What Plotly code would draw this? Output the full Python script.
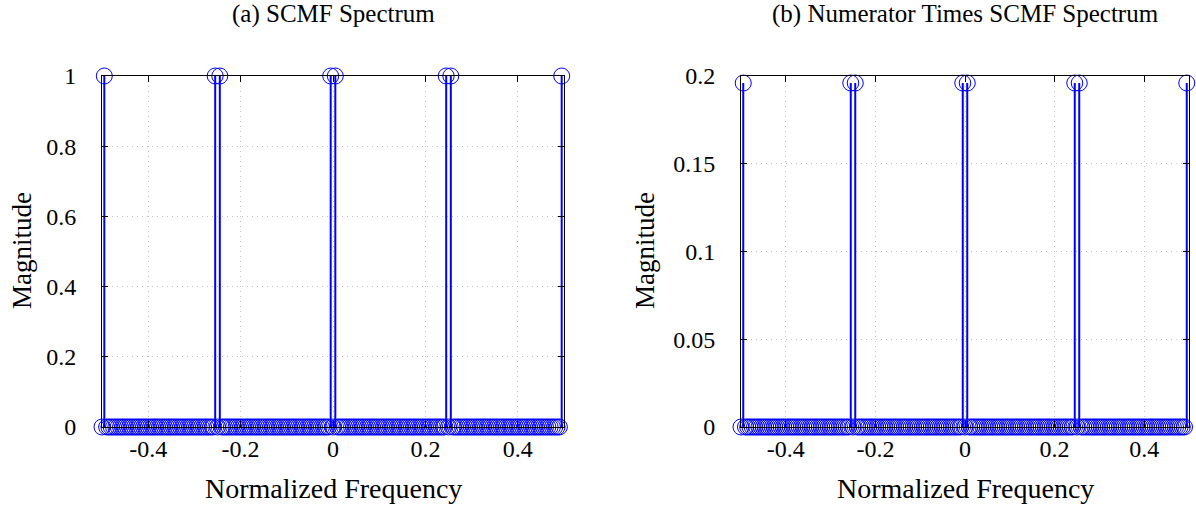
import plotly.graph_objects as go

# Normalized frequency bins (200-point grid)
freq = [
    -0.500, -0.495, -0.490, -0.485, -0.480, -0.475, -0.470, -0.465, -0.460, -0.455,
    -0.450, -0.445, -0.440, -0.435, -0.430, -0.425, -0.420, -0.415, -0.410, -0.405,
    -0.400, -0.395, -0.390, -0.385, -0.380, -0.375, -0.370, -0.365, -0.360, -0.355,
    -0.350, -0.345, -0.340, -0.335, -0.330, -0.325, -0.320, -0.315, -0.310, -0.305,
    -0.300, -0.295, -0.290, -0.285, -0.280, -0.275, -0.270, -0.265, -0.260, -0.255,
    -0.250, -0.245, -0.240, -0.235, -0.230, -0.225, -0.220, -0.215, -0.210, -0.205,
    -0.200, -0.195, -0.190, -0.185, -0.180, -0.175, -0.170, -0.165, -0.160, -0.155,
    -0.150, -0.145, -0.140, -0.135, -0.130, -0.125, -0.120, -0.115, -0.110, -0.105,
    -0.100, -0.095, -0.090, -0.085, -0.080, -0.075, -0.070, -0.065, -0.060, -0.055,
    -0.050, -0.045, -0.040, -0.035, -0.030, -0.025, -0.020, -0.015, -0.010, -0.005,
    0.000, 0.005, 0.010, 0.015, 0.020, 0.025, 0.030, 0.035, 0.040, 0.045,
    0.050, 0.055, 0.060, 0.065, 0.070, 0.075, 0.080, 0.085, 0.090, 0.095,
    0.100, 0.105, 0.110, 0.115, 0.120, 0.125, 0.130, 0.135, 0.140, 0.145,
    0.150, 0.155, 0.160, 0.165, 0.170, 0.175, 0.180, 0.185, 0.190, 0.195,
    0.200, 0.205, 0.210, 0.215, 0.220, 0.225, 0.230, 0.235, 0.240, 0.245,
    0.250, 0.255, 0.260, 0.265, 0.270, 0.275, 0.280, 0.285, 0.290, 0.295,
    0.300, 0.305, 0.310, 0.315, 0.320, 0.325, 0.330, 0.335, 0.340, 0.345,
    0.350, 0.355, 0.360, 0.365, 0.370, 0.375, 0.380, 0.385, 0.390, 0.395,
    0.400, 0.405, 0.410, 0.415, 0.420, 0.425, 0.430, 0.435, 0.440, 0.445,
    0.450, 0.455, 0.460, 0.465, 0.470, 0.475, 0.480, 0.485, 0.490, 0.495,
]

# (a) SCMF spectrum magnitude, rows of 25 bins
scmf_mag = [
    0, 1, 0, 0, 0, 0, 0, 0, 0, 0, 0, 0, 0, 0, 0, 0, 0, 0, 0, 0, 0, 0, 0, 0, 0,
    0, 0, 0, 0, 0, 0, 0, 0, 0, 0, 0, 0, 0, 0, 0, 0, 0, 0, 0, 0, 0, 0, 0, 0, 1,
    0, 1, 0, 0, 0, 0, 0, 0, 0, 0, 0, 0, 0, 0, 0, 0, 0, 0, 0, 0, 0, 0, 0, 0, 0,
    0, 0, 0, 0, 0, 0, 0, 0, 0, 0, 0, 0, 0, 0, 0, 0, 0, 0, 0, 0, 0, 0, 0, 0, 1,
    0, 1, 0, 0, 0, 0, 0, 0, 0, 0, 0, 0, 0, 0, 0, 0, 0, 0, 0, 0, 0, 0, 0, 0, 0,
    0, 0, 0, 0, 0, 0, 0, 0, 0, 0, 0, 0, 0, 0, 0, 0, 0, 0, 0, 0, 0, 0, 0, 0, 1,
    0, 1, 0, 0, 0, 0, 0, 0, 0, 0, 0, 0, 0, 0, 0, 0, 0, 0, 0, 0, 0, 0, 0, 0, 0,
    0, 0, 0, 0, 0, 0, 0, 0, 0, 0, 0, 0, 0, 0, 0, 0, 0, 0, 0, 0, 0, 0, 0, 0, 1,
]

# (b) Numerator times SCMF spectrum magnitude, rows of 25 bins
num_scmf_mag = [
    0, 0.196, 0, 0, 0, 0, 0, 0, 0, 0, 0, 0, 0, 0, 0, 0, 0, 0, 0, 0, 0, 0, 0, 0, 0,
    0, 0, 0, 0, 0, 0, 0, 0, 0, 0, 0, 0, 0, 0, 0, 0, 0, 0, 0, 0, 0, 0, 0, 0, 0.196,
    0, 0.196, 0, 0, 0, 0, 0, 0, 0, 0, 0, 0, 0, 0, 0, 0, 0, 0, 0, 0, 0, 0, 0, 0, 0,
    0, 0, 0, 0, 0, 0, 0, 0, 0, 0, 0, 0, 0, 0, 0, 0, 0, 0, 0, 0, 0, 0, 0, 0, 0.196,
    0, 0.196, 0, 0, 0, 0, 0, 0, 0, 0, 0, 0, 0, 0, 0, 0, 0, 0, 0, 0, 0, 0, 0, 0, 0,
    0, 0, 0, 0, 0, 0, 0, 0, 0, 0, 0, 0, 0, 0, 0, 0, 0, 0, 0, 0, 0, 0, 0, 0, 0.196,
    0, 0.196, 0, 0, 0, 0, 0, 0, 0, 0, 0, 0, 0, 0, 0, 0, 0, 0, 0, 0, 0, 0, 0, 0, 0,
    0, 0, 0, 0, 0, 0, 0, 0, 0, 0, 0, 0, 0, 0, 0, 0, 0, 0, 0, 0, 0, 0, 0, 0, 0.196,
]

x_ticks = [-0.4, -0.2, 0, 0.2, 0.4]
x_tick_labels = ["-0.4", "-0.2", "0", "0.2", "0.4"]
ya_ticks = [0, 0.2, 0.4, 0.6, 0.8, 1]
yb_ticks = [0, 0.05, 0.1, 0.15, 0.2]
titles = ["(a) SCMF Spectrum", "(b) Numerator Times SCMF Spectrum"]
x_label = "Normalized Frequency"
y_label = "Magnitude"

W, H = 1196, 506
FONT = "Liberation Serif"
BLUE = "#0000ff"

fig = go.Figure()


def add_stem(xs, ys, xa, ya):
    lx, ly = [], []
    for f, v in zip(xs, ys):
        lx += [f, f, None]
        ly += [0, v, None]
    fig.add_trace(go.Scatter(x=lx, y=ly, mode="lines", xaxis=xa, yaxis=ya,
                             line=dict(color=BLUE, width=2), hoverinfo="skip",
                             showlegend=False, cliponaxis=False))
    fig.add_trace(go.Scatter(x=xs, y=ys, mode="markers", xaxis=xa, yaxis=ya,
                             marker=dict(symbol="circle-open", size=16, color=BLUE,
                                         line=dict(color=BLUE, width=1)),
                             showlegend=False, cliponaxis=False))


add_stem(freq, scmf_mag, "x", "y")
add_stem(freq, num_scmf_mag, "x2", "y2")

ybot = 1 - 427 / H
ytop = 1 - 76 / H

axis_common = dict(showline=True, linecolor="black", linewidth=1, mirror="allticks",
                   ticks="inside", ticklen=6, tickcolor="black", tickwidth=1,
                   showgrid=True, gridcolor="#c4c4c4", griddash="1px,4px", gridwidth=1,
                   zeroline=False, automargin=False,
                   tickfont=dict(family=FONT, size=24, color="black"))

fig.update_layout(
    width=W, height=H, margin=dict(l=0, r=0, t=0, b=0),
    plot_bgcolor="white", paper_bgcolor="white",
    xaxis=dict(domain=[102 / W, 564 / W], range=[-0.5, 0.5], anchor="y",
               tickvals=x_ticks, ticktext=x_tick_labels, ticklabelstandoff=0,
               **axis_common),
    yaxis=dict(domain=[ybot, ytop], range=[0, 1], anchor="x", tickvals=ya_ticks,
               ticklabelstandoff=20, **axis_common),
    xaxis2=dict(domain=[741 / W, 1189 / W], range=[-0.5, 0.5], anchor="y2",
                tickvals=x_ticks, ticktext=x_tick_labels, ticklabelstandoff=0,
                **axis_common),
    yaxis2=dict(domain=[ybot, ytop], range=[0, 0.2], anchor="x2", tickvals=yb_ticks,
                ticklabelstandoff=20, **axis_common),
)

centers = [(102 + 564) / 2 / W, (741 + 1189) / 2 / W]
ylab_x = [22 / W, 645 / W]
for t, cx, yx in zip(titles, centers, ylab_x):
    fig.add_annotation(text=t, x=cx, y=1 - 14 / H, xref="paper", yref="paper",
                       xanchor="center", yanchor="middle", showarrow=False,
                       font=dict(family=FONT, size=25, color="black"))
    fig.add_annotation(text=x_label, x=cx, y=1 - 488 / H, xref="paper", yref="paper",
                       xanchor="center", yanchor="middle", showarrow=False,
                       font=dict(family=FONT, size=28, color="black"))
    fig.add_annotation(text=y_label, x=yx, y=1 - 251 / H, xref="paper", yref="paper",
                       xanchor="center", yanchor="middle", showarrow=False, textangle=-90,
                       font=dict(family=FONT, size=27, color="black"))

fig.write_html("out.html")
